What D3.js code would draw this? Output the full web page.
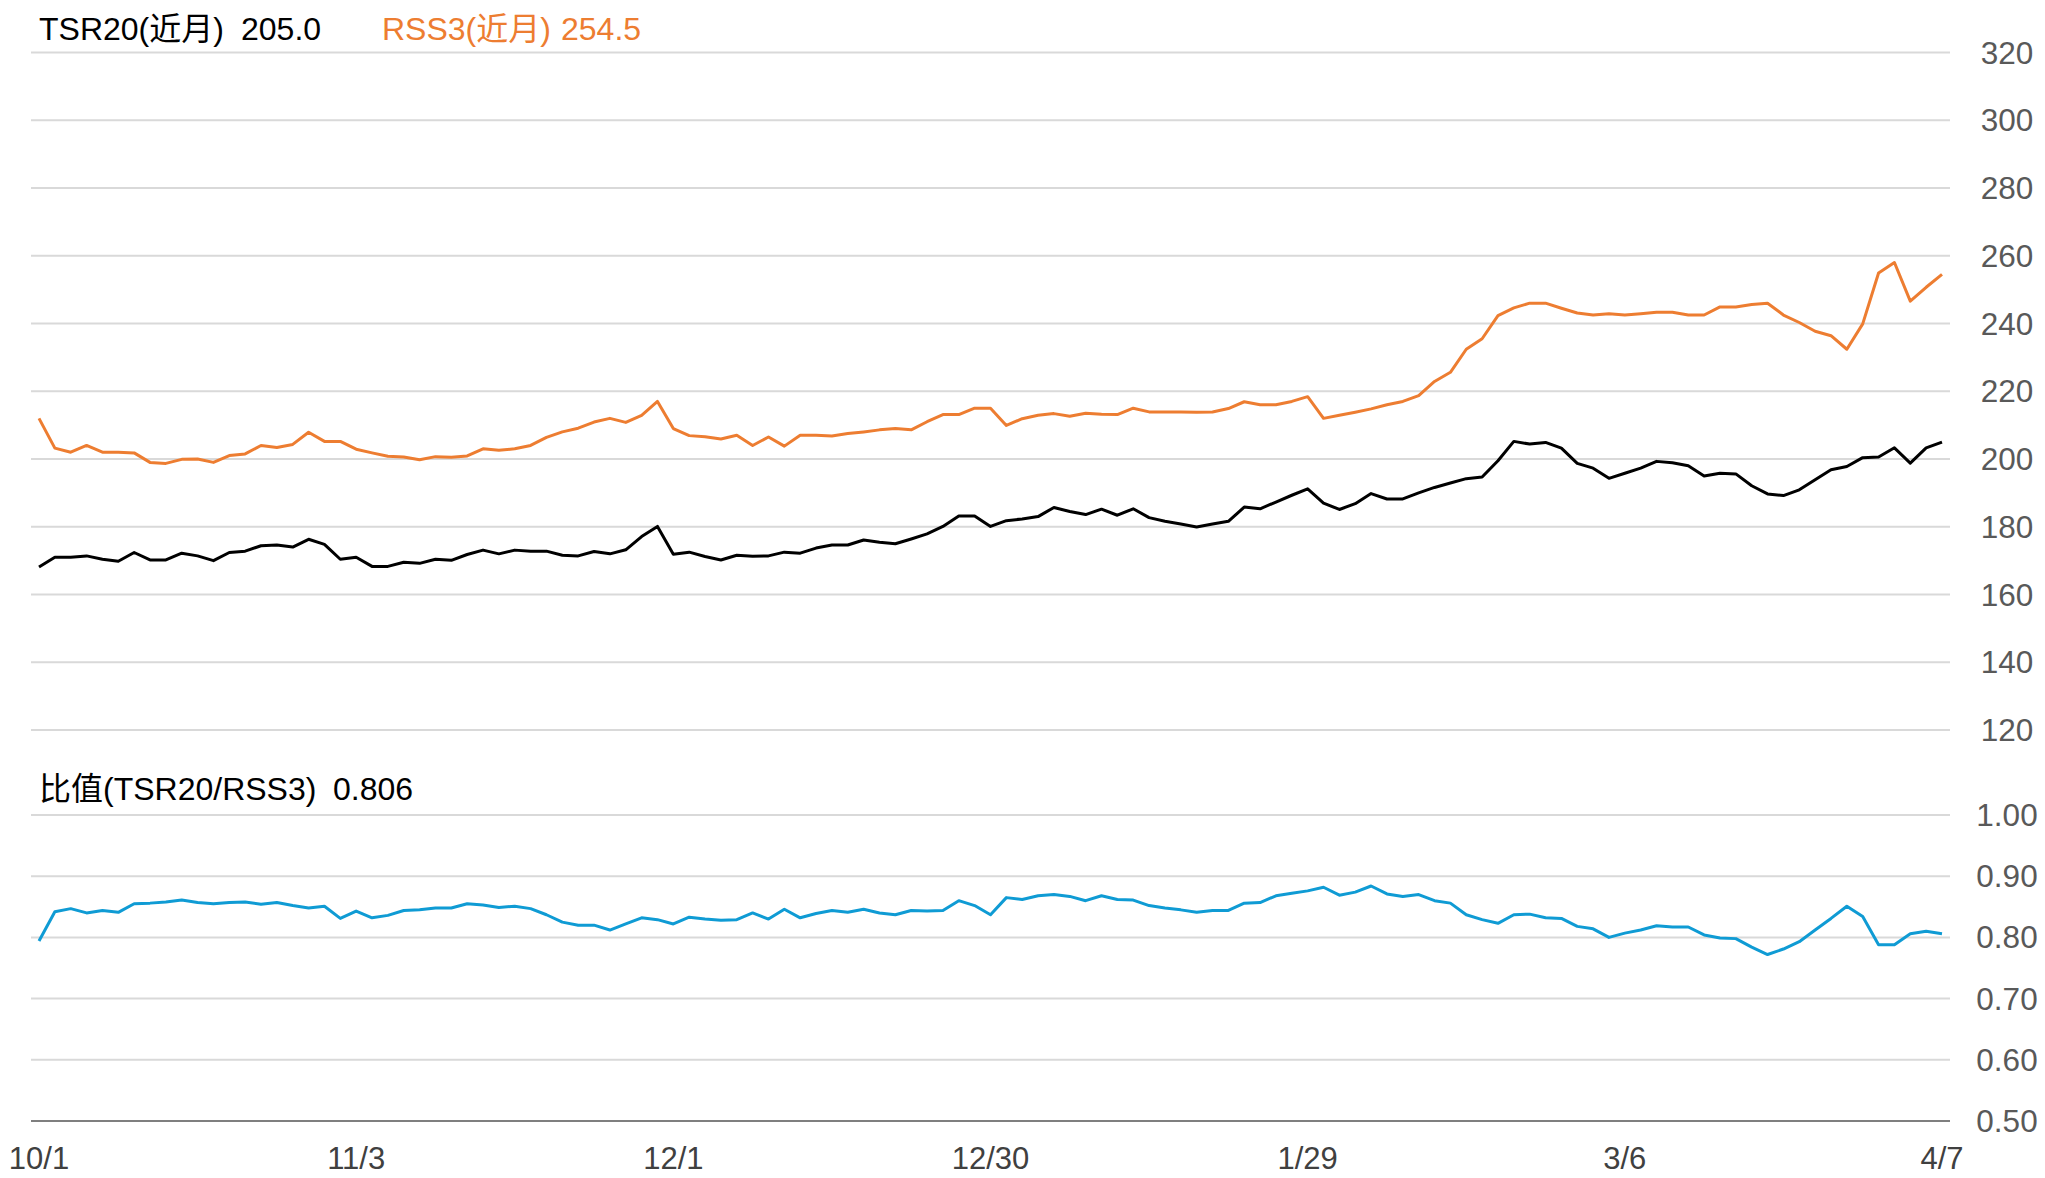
<!DOCTYPE html>
<html lang="zh">
<head>
<meta charset="utf-8">
<title>TSR20 / RSS3</title>
<script src="https://d3js.org/d3.v7.min.js"></script>
<style>
  body { margin: 0; background: #fff; }
  text { font-family: "Liberation Sans", Arial, "Noto Sans CJK SC", sans-serif; }
</style>
</head>
<body>
<div id="canvas"></div>
<script>
// ---- data ----
const tickLabels = ["10/1", "11/3", "12/1", "12/30", "1/29", "3/6", "4/7"]
const tickIndex  = [0, 20, 40, 60, 80, 100, 120]

const tsr20 = [
  168.1,171.0,171.0,171.4,170.4,169.8,172.4,170.2,170.2,172.2,171.4,170.0,172.4,172.8,174.4,174.6,
  174.0,176.3,174.8,170.4,171.0,168.3,168.3,169.5,169.2,170.4,170.1,171.8,173.1,172.0,173.1,172.8,
  172.8,171.6,171.4,172.7,172.0,173.2,177.1,180.1,171.9,172.5,171.2,170.2,171.6,171.3,171.4,172.5,
  172.2,173.7,174.6,174.6,176.1,175.4,175.0,176.4,177.9,180.1,183.2,183.2,180.1,181.8,182.3,
  183.0,185.7,184.5,183.6,185.2,183.4,185.3,182.7,181.6,180.8,179.9,180.8,181.6,185.8,185.3,187.3,
  189.3,191.2,187.0,185.1,186.8,189.8,188.2,188.2,190.0,191.6,192.9,194.2,194.7,199.5,205.2,
  204.4,204.9,203.2,198.7,197.3,194.3,195.8,197.3,199.3,198.9,198.0,195.0,195.8,195.6,192.1,189.7,
  189.2,190.9,193.9,196.8,197.8,200.4,200.6,203.3,198.8,203.3,205.0
]

const rss3 = [
  212.0,203.2,202.0,204.0,202.0,202.0,201.8,199.0,198.7,199.9,200.0,199.0,201.0,201.5,204.0,203.4,
  204.3,207.9,205.2,205.2,202.9,201.8,200.8,200.6,199.8,200.7,200.5,200.9,203.0,202.6,203.0,204.0,
  206.4,208.0,209.1,210.9,212.0,210.8,212.9,217.0,209.0,206.9,206.6,205.9,207.0,204.0,206.5,203.8,
  207.0,207.0,206.8,207.5,208.0,208.6,209.0,208.6,211.0,213.1,213.1,215.0,215.0,209.9,211.9,
  212.9,213.4,212.6,213.5,213.2,213.1,215.0,213.9,213.9,213.9,213.8,213.9,214.9,216.9,216.0,216.0,
  217.0,218.4,212.0,212.9,213.8,214.8,216.0,217.0,218.7,222.9,225.6,232.4,235.5,242.3,244.6,
  246.0,246.0,244.5,243.1,242.5,242.9,242.5,242.9,243.3,243.3,242.5,242.5,244.9,244.9,245.6,246.0,
  242.5,240.3,237.7,236.4,232.4,239.9,254.9,258.0,246.6,250.7,254.5
]

const ratio = [
  0.794,0.842,0.847,0.840,0.844,0.841,0.855,0.856,0.858,0.861,0.857,0.855,0.857,0.858,0.854,0.857,
  0.852,0.848,0.851,0.831,0.843,0.832,0.836,0.844,0.845,0.848,0.848,0.855,0.853,0.849,0.851,0.847,
  0.837,0.825,0.820,0.820,0.812,0.822,0.832,0.829,0.822,0.833,0.830,0.828,0.829,0.840,0.830,0.846,
  0.832,0.839,0.844,0.841,0.846,0.840,0.837,0.844,0.843,0.844,0.860,0.852,0.837,0.865,0.862,
  0.868,0.870,0.867,0.860,0.868,0.862,0.861,0.852,0.848,0.845,0.841,0.844,0.844,0.856,0.857,0.868,
  0.872,0.876,0.882,0.869,0.874,0.884,0.871,0.867,0.870,0.860,0.856,0.837,0.829,0.823,0.837,
  0.838,0.832,0.831,0.818,0.814,0.800,0.807,0.812,0.819,0.817,0.817,0.804,0.799,0.798,0.784,0.772,
  0.781,0.793,0.812,0.831,0.851,0.834,0.788,0.788,0.806,0.810,0.806
]

const topTicks = [120, 140, 160, 180, 200, 220, 240, 260, 280, 300, 320]
const botTicks = [0.5, 0.6, 0.7, 0.8, 0.9, 1.0]

// ---- layout ----
const width = 2045
const height = 1178
const gridLeft = 31
const gridRight = 1950
const labelX = 2007

const svg = d3.select("#canvas")
  .append("svg")
    .attr("width", width)
    .attr("height", height)

const x = d3.scaleLinear().domain([0, tsr20.length - 1]).range([39, 1942])
const yTop = d3.scaleLinear().domain([120, 320]).range([730, 52.5])
const yBot = d3.scaleLinear().domain([0.5, 1.0]).range([1121, 815])

function drawGrid(scale, ticks, fmt, isBottom) {
  const g = svg.append("g")
  g.selectAll("line")
    .data(ticks)
    .join("line")
      .attr("x1", gridLeft)
      .attr("x2", gridRight)
      .attr("y1", d => scale(d))
      .attr("y2", d => scale(d))
      .attr("stroke", d => (isBottom && d === ticks[0]) ? "#7f7f7f" : "#d9d9d9")
      .attr("stroke-width", 2)
  g.selectAll("text")
    .data(ticks)
    .join("text")
      .attr("x", labelX)
      .attr("y", d => scale(d))
      .attr("dy", "0.35em")
      .attr("text-anchor", "middle")
      .attr("fill", "#595959")
      .style("font-size", "31.5px")
      .text(fmt)
}

drawGrid(yTop, topTicks, d3.format("d"), false)
drawGrid(yBot, botTicks, d3.format(".2f"), true)

// x axis labels
svg.append("g")
  .selectAll("text")
  .data(tickIndex)
  .join("text")
    .attr("x", d => x(d))
    .attr("y", 1158)
    .attr("dy", "0.35em")
    .attr("text-anchor", "middle")
    .attr("fill", "#404040")
    .style("font-size", "31px")
    .text((d, i) => tickLabels[i])

// lines
const lineTop = d3.line().x((d, i) => x(i)).y(d => yTop(d))
const lineBot = d3.line().x((d, i) => x(i)).y(d => yBot(d))

svg.append("path")
  .datum(rss3)
  .attr("d", lineTop)
  .attr("fill", "none")
  .attr("stroke", "#ed7d31")
  .attr("stroke-width", 3)
  .attr("stroke-linejoin", "round")

svg.append("path")
  .datum(tsr20)
  .attr("d", lineTop)
  .attr("fill", "none")
  .attr("stroke", "#000")
  .attr("stroke-width", 3)
  .attr("stroke-linejoin", "round")

svg.append("path")
  .datum(ratio)
  .attr("d", lineBot)
  .attr("fill", "none")
  .attr("stroke", "#0f9bd4")
  .attr("stroke-width", 3)
  .attr("stroke-linejoin", "round")

// legends
const legend = [
  { x: 39,  y: 29,  text: "TSR20(近月)", color: "#000" },
  { x: 241, y: 29,  text: d3.format(".1f")(tsr20[tsr20.length - 1]), color: "#000" },
  { x: 382, y: 29,  text: "RSS3(近月)", color: "#ed7d31" },
  { x: 561, y: 29,  text: d3.format(".1f")(rss3[rss3.length - 1]), color: "#ed7d31" },
  { x: 39,  y: 789, text: "比值(TSR20/RSS3)", color: "#000" },
  { x: 333, y: 789, text: d3.format(".3f")(ratio[ratio.length - 1]), color: "#000" }
]

svg.append("g")
  .selectAll("text")
  .data(legend)
  .join("text")
    .attr("x", d => d.x)
    .attr("y", d => d.y)
    .attr("dy", "0.35em")
    .attr("fill", d => d.color)
    .style("font-size", "32px")
    .text(d => d.text)
</script>
</body>
</html>
